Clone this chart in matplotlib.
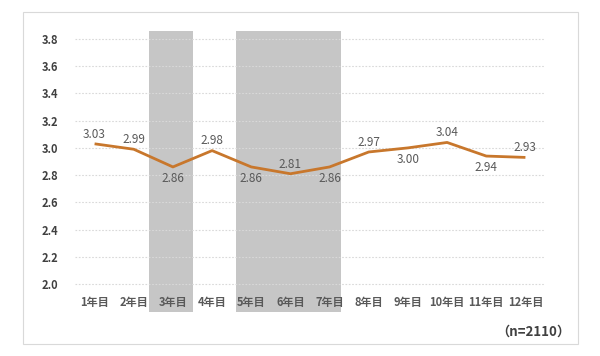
import matplotlib
matplotlib.use("Agg")
import matplotlib.pyplot as plt
from matplotlib.patches import Rectangle

plt.rcParams["font.family"] = ["Noto Sans CJK JP", "DejaVu Sans"]

# data
years = ["1年目", "2年目", "3年目", "4年目", "5年目", "6年目",
         "7年目", "8年目", "9年目", "10年目", "11年目", "12年目"]
scores = [3.03, 2.99, 2.86, 2.98, 2.86, 2.81, 2.86, 2.97, 3.00, 3.04, 2.94, 2.93]
label_below = [False, False, True, False, True, False, True, False, True, False, True, False]
y_ticks = [2.0, 2.2, 2.4, 2.6, 2.8, 3.0, 3.2, 3.4, 3.6, 3.8]
shaded = [("3年目", "3年目"), ("5年目", "7年目")]
note = "（n=2110）"

# style
line_color = "#C8772C"
band_color = "#C6C6C6"
text_color = "#595959"
tick_color = "#404040"
band_edges = [(-0.62, 0.51), (-0.39, 0.28)]

fig = plt.figure(figsize=(6, 3.56), dpi=100)
fig.patches.append(Rectangle((23 / 600, 1 - 344 / 356), 555 / 600, 332 / 356,
                             transform=fig.transFigure, fill=False,
                             edgecolor="#D9D9D9", linewidth=0.8))

ax = fig.add_axes([75 / 600, 1 - 312 / 356, 470 / 600, 281 / 356])
x = list(range(len(years)))

for (a, b), (lo, hi) in zip(shaded, band_edges):
    ax.axvspan(years.index(a) + lo, years.index(b) + hi, color=band_color,
               linewidth=0, zorder=0)

for t in y_ticks:
    ax.axhline(t, color="#D9D9D9", linestyle=(0, (1.5, 1.5)), linewidth=0.8, zorder=1)

ax.plot(x, scores, color=line_color, linewidth=2.0, zorder=3,
        solid_capstyle="butt", solid_joinstyle="round")

for xi, v, below in zip(x, scores, label_below):
    ax.annotate(f"{v:.2f}", (xi, v), xytext=(0, -8 if below else 7),
                textcoords="offset points", ha="center",
                va="center", fontsize=8.5, color=text_color, zorder=4)

ax.set_xlim(-0.5, len(years) - 0.5)
ax.set_ylim(1.794, 3.859)
ax.set_yticks(y_ticks)
ax.set_yticklabels([f"{t:.1f}" for t in y_ticks], fontsize=8,
                   fontweight="bold", color=tick_color)
ax.set_xticks(x)
ax.set_xticklabels(years, fontsize=8, fontweight="bold", color=text_color)
ax.tick_params(axis="y", length=0, pad=12)
ax.tick_params(axis="x", length=0, pad=-11.5)
for s in ax.spines.values():
    s.set_visible(False)
ax.patch.set_alpha(0)

fig.text(570 / 600, 1 - 332 / 356, note, ha="right", va="center",
         fontsize=9.5, fontweight="bold", color=tick_color)

fig.savefig("out.png", dpi=100)
